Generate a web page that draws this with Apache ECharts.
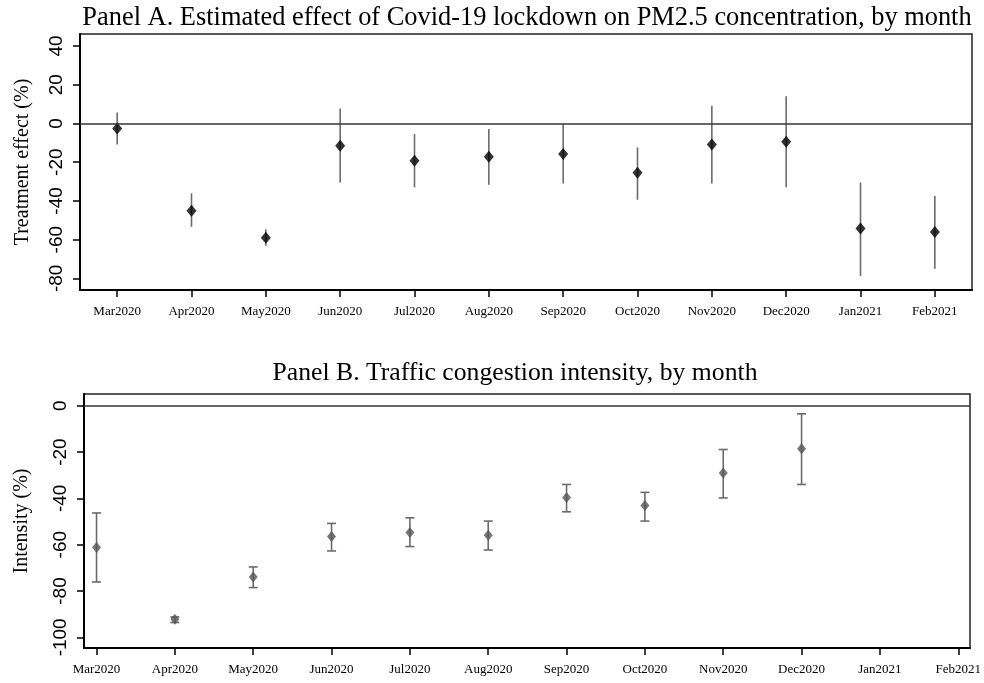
<!DOCTYPE html>
<html><head><meta charset="utf-8">
<script src="https://cdn.jsdelivr.net/npm/echarts@6/dist/echarts.min.js"></script>
<style>html,body{margin:0;padding:0;background:#fff}#c{width:984px;height:683px}</style>
</head><body><div id="c"></div>
<script>
const months = ['Mar2020','Apr2020','May2020','Jun2020','Jul2020','Aug2020','Sep2020','Oct2020','Nov2020','Dec2020','Jan2021','Feb2021'];
// Panel A: treatment effect on PM2.5 (%)
const aEst  = [-2.6, -45.1, -59.0, -11.5, -19.3, -17.2, -15.8, -25.5, -10.8, -9.5, -54.2, -56.1];
const aLow  = [-10.8, -53.4, -63.2, -30.5, -33.0, -31.7, -31.0, -39.4, -31.0, -33.0, -78.7, -75.0];
const aHigh = [5.7, -36.1, -54.6, 7.7, -5.5, -2.8, -0.4, -12.4, 9.1, 14.1, -30.5, -37.4];
// Panel B: traffic congestion intensity (%)
const bEst  = [-61.2, -92.2, -73.9, -56.5, -54.7, -55.9, -39.6, -43.1, -29.0, -18.6, null, null];
const bLow  = [-76.1, -93.6, -78.5, -62.7, -60.8, -62.3, -45.8, -49.8, -39.8, -34.0, null, null];
const bHigh = [-46.3, -91.2, -69.6, -50.8, -48.4, -49.8, -34.0, -37.4, -18.9, -3.5, null, null];
const aTicks = [-80, -60, -40, -20, 0, 20, 40];
const bTicks = [-100, -80, -60, -40, -20, 0];
const monthIdx = months.map((m, i) => i);

const serif = 'Liberation Serif';
const sans = 'Liberation Sans';

function pts(est) { return est.map((v, i) => v == null ? null : [i, v]).filter(d => d); }
function ci(lo, hi) { return lo.map((v, i) => v == null ? null : [i, v, hi[i]]).filter(d => d); }

function barRenderer(cap, color) {
  return function (params, api) {
    const x = api.value(0);
    const a = api.coord([x, api.value(1)]);
    const b = api.coord([x, api.value(2)]);
    const st = { stroke: color, lineWidth: 1.6 };
    const ch = [{ type: 'line', shape: { x1: a[0], y1: a[1], x2: b[0], y2: b[1] }, style: st }];
    if (cap) {
      ch.push({ type: 'line', shape: { x1: a[0] - cap, y1: a[1], x2: a[0] + cap, y2: a[1] }, style: st });
      ch.push({ type: 'line', shape: { x1: b[0] - cap, y1: b[1], x2: b[0] + cap, y2: b[1] }, style: st });
    }
    return { type: 'group', children: ch };
  };
}

function xAxis(gi, min, max) {
  return {
    gridIndex: gi, type: 'value', min: min, max: max,
    axisLine: { show: true, onZero: false, lineStyle: { color: '#000', width: 2 } },
    axisTick: { show: true, customValues: monthIdx, length: 7, lineStyle: { color: '#000', width: 1.5 } },
    axisLabel: { customValues: monthIdx, formatter: v => months[Math.round(v)], margin: 15,
      fontFamily: serif, fontSize: 13, color: '#000' },
    splitLine: { show: false }
  };
}
function yAxis(gi, min, max, ticks, name, gap) {
  return {
    gridIndex: gi, type: 'value', min: min, max: max,
    name: name, nameLocation: 'middle', nameGap: gap,
    nameTextStyle: { fontFamily: serif, fontSize: 20, color: '#000' },
    axisLine: { show: true, onZero: false, lineStyle: { color: '#000', width: 2 } },
    axisTick: { show: true, customValues: ticks, length: 7, lineStyle: { color: '#000', width: 1.5 } },
    axisLabel: { customValues: ticks, rotate: 90, margin: 14, fontFamily: sans, fontSize: 19, color: '#000' },
    splitLine: { show: false }
  };
}

const zeroLine = {
  silent: true, symbol: 'none', label: { show: false },
  lineStyle: { color: '#333', width: 1.5, type: 'solid' },
  data: [{ yAxis: 0 }]
};

const chart = echarts.init(document.getElementById('c'), null, { renderer: 'canvas' });
chart.setOption({
  animation: false,
  backgroundColor: '#fff',
  title: [
    { text: 'Panel A. Estimated effect of Covid-19 lockdown on PM2.5 concentration, by month',
      left: 527, textAlign: 'center', top: 5, padding: 0,
      textStyle: { fontFamily: serif, fontSize: 26.4, fontWeight: 'normal', color: '#000' } },
    { text: 'Panel B. Traffic congestion intensity, by month',
      left: 515, textAlign: 'center', top: 360, padding: 0,
      textStyle: { fontFamily: serif, fontSize: 25.7, fontWeight: 'normal', color: '#000' } }
  ],
  grid: [
    { left: 80, right: 12, top: 34, height: 256, show: true, borderColor: '#222', borderWidth: 1.5 },
    { left: 84, right: 12, top: 394, height: 254, show: true, borderColor: '#222', borderWidth: 1.5 }
  ],
  xAxis: [xAxis(0, -0.5, 11.5), xAxis(1, -0.16, 11.15)],
  yAxis: [
    yAxis(0, -86, 46.2, aTicks, 'Treatment effect (%)', 47),
    yAxis(1, -104.6, 5.06, bTicks, 'Intensity (%)', 52)
  ],
  series: [
    { type: 'custom', xAxisIndex: 0, yAxisIndex: 0, data: ci(aLow, aHigh),
      encode: { x: 0, y: [1, 2] }, renderItem: barRenderer(0, '#6b6b6b'), z: 2 },
    { type: 'scatter', xAxisIndex: 0, yAxisIndex: 0, data: pts(aEst),
      symbol: 'diamond', symbolSize: [10, 12], itemStyle: { color: '#000' }, z: 3,
      markLine: zeroLine },
    { type: 'custom', xAxisIndex: 1, yAxisIndex: 1, data: ci(bLow, bHigh),
      encode: { x: 0, y: [1, 2] }, renderItem: barRenderer(4.5, '#6b6b6b'), z: 2 },
    { type: 'scatter', xAxisIndex: 1, yAxisIndex: 1, data: pts(bEst),
      symbol: 'diamond', symbolSize: [9, 11], itemStyle: { color: '#555' }, z: 3,
      markLine: zeroLine }
  ]
});
</script>
</body></html>
